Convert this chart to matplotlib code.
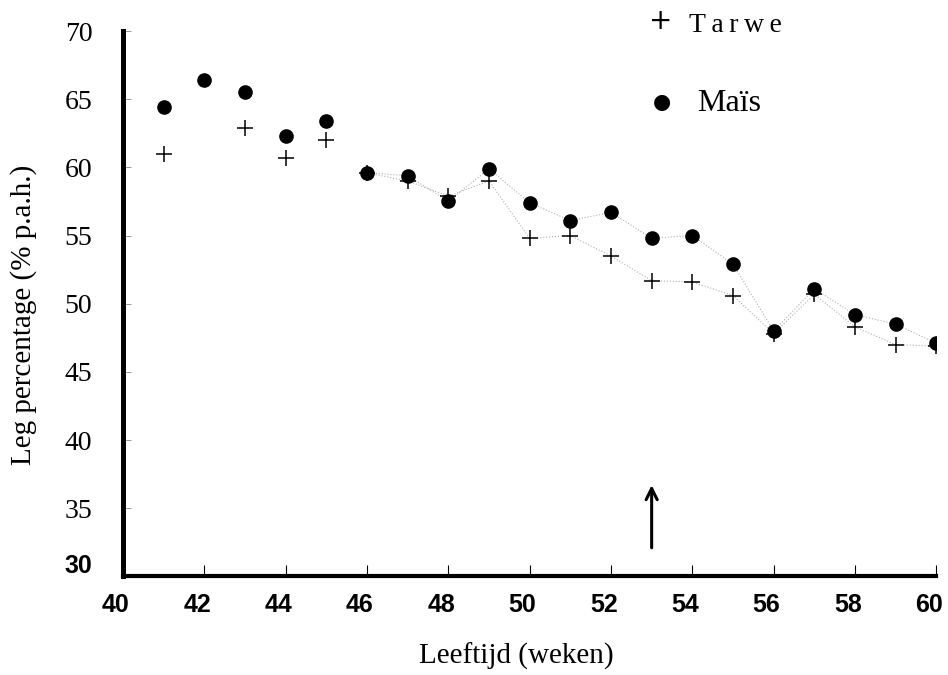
import matplotlib.pyplot as plt
import matplotlib.transforms as mtransforms
import numpy as np

# data
weeks = [41, 42, 43, 44, 45, 46, 47, 48, 49, 50, 51, 52, 53, 54, 55, 56, 57, 58, 59, 60]
mais = [64.4, 66.4, 65.5, 62.3, 63.4, 59.6, 59.4, 57.5, 59.9, 57.4, 56.1, 56.7,
        54.8, 55.0, 52.9, 48.0, 51.1, 49.2, 48.5, 47.1]
tarwe = [61.0, np.nan, 62.9, 60.7, 62.0, 59.6, 59.0, 57.9, 59.0, 54.8, 55.0, 53.5,
         51.7, 51.6, 50.6, 47.8, 50.7, 48.3, 47.0, 46.9]
x_ticks = [40, 42, 44, 46, 48, 50, 52, 54, 56, 58, 60]
y_ticks = [30, 35, 40, 45, 50, 55, 60, 65, 70]
arrow_week = 53

serif = 'Liberation Serif'
narrow = ['Liberation Sans Narrow', 'Liberation Sans']

fig = plt.figure(figsize=(9.48, 6.75), dpi=100)
ax = fig.add_axes([0.1297, 0.146, 0.858, 0.808])

w = np.array(weeks)
m = np.array(mais)
t = np.array(tarwe)
late = w >= 46
# faint dotted connecting lines (scan shows them only from week 46 on)
ax.plot(w[late], m[late], ls=':', lw=0.8, color='#b0b0b0', zorder=1)
ax.plot(w[late], t[late], ls=':', lw=0.8, color='#b0b0b0', zorder=1)

ax.plot(w, t, ls='none', marker='+', ms=11, mew=1.1, color='black', zorder=2)
ax.plot(w, m, ls='none', marker='o', ms=9.5, color='black', zorder=3)

ax.annotate('', xy=(arrow_week, 36.9), xytext=(arrow_week, 31.9),
            arrowprops=dict(arrowstyle='->,head_width=0.4,head_length=0.8',
                            lw=2.2, color='black'))

ax.set_xlim(40, 60)
ax.set_ylim(30, 70)
ax.set_xticks(x_ticks)
ax.set_yticks(y_ticks)

for s in ['top', 'right']:
    ax.spines[s].set_visible(False)
ax.spines['left'].set_linewidth(3.6)
ax.spines['bottom'].set_linewidth(3.0)

ax.tick_params(axis='x', direction='in', length=8, width=0.8, pad=12)
ax.tick_params(axis='y', direction='in', length=6, width=0.6, color='#888888', pad=22)

shift = mtransforms.ScaledTranslation(-7 / 100, 0, fig.dpi_scale_trans)
lift = mtransforms.ScaledTranslation(0, 13 / 100, fig.dpi_scale_trans)
for lbl in ax.get_xticklabels():
    lbl.set_fontfamily(narrow)
    lbl.set_fontweight('bold')
    lbl.set_fontsize(18)
    lbl.set_transform(lbl.get_transform() + shift)
for lbl in ax.get_yticklabels():
    if lbl.get_text() == '30':
        lbl.set_fontfamily(narrow)
        lbl.set_fontweight('bold')
        lbl.set_fontsize(18)
        lbl.set_transform(lbl.get_transform() + lift)
    else:
        lbl.set_fontfamily(serif)
        lbl.set_fontsize(20)

ax.set_xlabel('Leeftijd (weken)', fontfamily=serif, fontsize=21)
ax.set_ylabel('Leg percentage (% p.a.h.)', fontfamily=serif, fontsize=21)
ax.xaxis.set_label_coords(0.483, -0.121)
ax.yaxis.set_label_coords(-0.106, 0.48)

# legend drawn as text, like the original
fig.text(0.697, 0.969, '+', fontfamily='DejaVu Sans', fontsize=20, ha='center', va='center')
fig.text(0.727, 0.962, 'T\u2009a\u2009r\u2009w\u2009e', fontfamily=serif, fontsize=20,
         ha='left', va='center')
fig.text(0.698, 0.849, '\u25CF', fontfamily='DejaVu Sans', fontsize=15, ha='center', va='center')
fig.text(0.735, 0.846, 'Maïs', fontfamily=serif, fontsize=23, ha='left', va='center')

fig.savefig('out.png', dpi=100)
